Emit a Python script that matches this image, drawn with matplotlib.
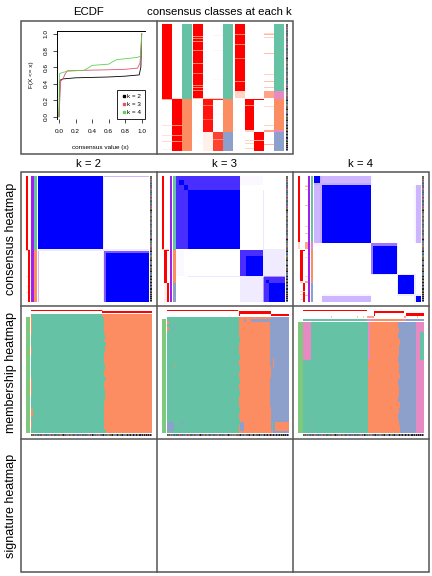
import matplotlib
matplotlib.use('Agg')
import matplotlib.pyplot as plt
import numpy as np
from matplotlib.colors import ListedColormap, LinearSegmentedColormap
from matplotlib.patches import Rectangle

plt.rcParams['font.family'] = ['Liberation Sans', 'DejaVu Sans']

W, H = 432, 576
GRID = '#555555'
CLASS_COLS = ['#66C2A5', '#FC8D62', '#8DA0CB', '#E78AC3']
ECDF_COLS = ['#000000', '#DF536B', '#61D04F']

# ecdf curves
ecdf_x2 = [0.0, 0.01, 0.05, 0.2, 0.4, 0.6, 0.8, 0.97, 0.99, 1.0]
ecdf_y2 = [0.0, 0.44, 0.457, 0.47, 0.475, 0.48, 0.49, 0.505, 0.6, 1.0]
ecdf_x3 = [0.0, 0.02, 0.05, 0.07, 0.1, 0.2, 0.4, 0.6, 0.8, 0.95, 0.98, 1.0]
ecdf_y3 = [0.0, 0.43, 0.46, 0.51, 0.555, 0.558, 0.563, 0.567, 0.573, 0.587, 0.65, 1.0]
ecdf_x4 = [0.0, 0.005, 0.03, 0.1, 0.3, 0.35, 0.4, 0.6, 0.65, 0.7, 0.95, 0.99, 1.0]
ecdf_y4 = [0.0, 0.52, 0.53, 0.55, 0.56, 0.587, 0.62, 0.635, 0.665, 0.69, 0.717, 0.737, 1.0]
ecdf_labels = ['k = 2', 'k = 3', 'k = 4']
ecdf_ticks = [0.0, 0.2, 0.4, 0.6, 0.8, 1.0]

# class segments along the 127 samples: (start, end, class)
class_k2 = [(0, 75, 0), (75, 127, 1)]
class_k3 = [(0, 75, 0), (75, 108, 1), (108, 127, 2)]
class_k4 = [(0, 67, 0), (67, 75, 3), (75, 106, 1), (106, 108, 3), (108, 127, 2)]

# membership probabilities: (column, start, end, value)
probs_k2 = [(0, 0, 75, 1), (0, 75, 76, .5), (1, 75, 127, 1), (1, 74, 75, .25),
            (1, 101, 102, .65), (1, 111, 112, .65), (1, 117, 118, .65),
            (0, 101, 102, .2), (0, 111, 112, .2), (0, 117, 118, .25), (0, 125, 126, .1)]
probs_k3 = [(0, 0, 74, 1), (0, 74, 75, .4), (0, 12, 13, .65), (0, 14, 15, .7), (0, 17, 18, .65),
            (0, 26, 27, .7), (0, 39, 40, .7), (0, 49, 50, .75), (0, 61, 62, .7), (0, 63, 64, .65),
            (0, 66, 67, .7), (1, 75, 108, .95), (1, 108, 127, .1), (1, 81, 82, .75), (1, 95, 96, .8),
            (1, 74, 75, .3), (2, 108, 127, .85), (2, 75, 76, .9), (2, 74, 75, .3), (2, 11, 12, .08),
            (2, 26, 27, .06), (2, 55, 56, .05), (2, 90, 91, .04), (2, 115, 116, .65)]
probs_k4 = [(0, 0, 67, 1), (0, 67, 74, .3), (0, 10, 11, .7), (0, 20, 21, .7), (0, 34, 35, .75),
            (0, 57, 58, .7), (1, 75, 106, 1), (1, 106, 108, .3), (1, 81, 82, .7), (1, 116, 117, .3),
            (1, 119, 120, .3), (1, 124, 125, .3), (2, 75, 76, 1), (2, 108, 127, 1), (2, 116, 117, .5),
            (3, 67, 74, .55), (3, 106, 108, .55), (3, 9, 10, .25), (3, 10, 11, .45), (3, 13, 14, .3),
            (3, 29, 30, .4), (3, 50, 51, .3), (3, 57, 58, .4), (3, 63, 64, .35), (3, 82, 83, .25),
            (3, 101, 102, .3), (3, 120, 121, .45)]

# consensus blocks: group sizes and between group values
cons_sizes_k2 = [1, 73, 2, 2, 49]
cons_vals_k2 = [[1, 1, .1, .35, .35],
                [1, 1, .1, 0, 0],
                [.1, .1, .1, .1, .1],
                [.35, 0, .1, .7, .7],
                [.35, 0, .1, .7, 1]]
cons_sizes_k3 = [4, 5, 5, 60, 1, 6, 20, 1, 3, 3, 19]
cons_vals_k3 = [[.85, .85, .85, .85, 0, .03, .03, 0, 0, 0, 0],
                [.85, 1, .85, .85, 0, .03, .03, 0, 0, 0, 0],
                [.85, .85, 1, .85, 0, 0, 0, 0, 0, 0, 0],
                [.85, .85, .85, 1, 0, 0, 0, .12, 0, 0, 0],
                [0, 0, 0, 0, 0, 0, 0, .12, .1, .1, .1],
                [.03, .03, 0, 0, 0, .85, .85, .12, .1, .1, .1],
                [.03, .03, 0, 0, 0, .85, 1, .12, .1, .1, .1],
                [0, 0, 0, .12, .12, .12, .12, .12, .5, .5, .5],
                [0, 0, 0, 0, .1, .1, .1, .5, .85, .85, .85],
                [0, 0, 0, 0, .1, .1, .1, .5, .85, 1, .85],
                [0, 0, 0, 0, .1, .1, .1, .5, .85, .85, 1]]
cons_sizes_k4 = [7, 2, 58, 3, 28, 1, 19, 2, 6]
cons_vals_k4 = [[1, .4, .35, .03, 0, 0, 0, 0, 0],
                [.4, .4, .4, .03, 0, 0, 0, 0, 0],
                [.35, .4, 1, 0, 0, 0, 0, .05, .35],
                [.03, .03, 0, .6, .6, .1, 0, 0, 0],
                [0, 0, 0, .6, 1, .1, 0, 0, 0],
                [0, 0, 0, .1, .1, .1, .1, .1, 0],
                [0, 0, 0, 0, 0, .1, 1, .1, 0],
                [0, 0, .05, 0, 0, .1, .1, .1, .1],
                [0, 0, .35, 0, 0, 0, 0, .1, 1]]

# colour codes of the sample annotation strip
strip_codes = [6, 1, 5, 4, 1, 7, 2, 6, 3, 6, 1, 5, 7, 4, 1, 2, 6, 3, 1, 7, 7, 5, 2, 4, 6, 6, 1, 3, 5,
               1, 7, 2, 4, 6, 0, 1, 5, 3, 7, 4, 6, 2, 4, 1, 6, 5, 7, 3, 6, 1, 2, 1, 4, 7, 5, 6, 3, 6,
               1, 2, 7, 4, 5, 7, 0, 6, 3, 1, 4, 2, 7, 4, 1, 5, 1, 6, 0, 3, 2, 6, 7, 4, 1, 6, 5, 0, 4,
               3, 7, 2, 0, 1, 4, 6, 6, 5, 0, 3, 1, 7, 1, 0, 2, 6, 0, 4, 1, 0, 5, 3, 0, 1, 7, 0, 0, 2,
               6, 0, 4, 0, 1, 0, 5, 0, 3, 0, 7]
strip_palette = ['#222222', '#6E6E6E', '#7A5FC8', '#4A8FB0', '#9A8A3E', '#A83F68', '#3F6F4F', '#7F7FA0']

# membership: where each class ends, one entry per 6 rows (sample index)
member_edge_k2 = [73, 73, 73, 74, 73, 74, 73, 73, 74, 73, 73, 73, 74, 74, 73, 73, 73, 73, 73, 74, 74]
member_edge_k3a = [71, 71, 71, 72, 71, 71, 72, 71, 72, 71, 72, 71, 72, 71, 71, 72, 71, 72, 71, 71]
member_edge_k3b = [102, 102, 102, 102, 102, 102, 102, 102, 103, 103, 102, 102, 102, 102, 102, 103, 104, 103, 103, 105]
member_edge_k4a = [65, 65, 65, 65, 65, 65, 65, 65, 65, 65, 65, 65, 65, 65, 65, 65, 65, 65, 65, 65]
member_edge_k4b = [95, 96, 95, 97, 96, 96, 95, 96, 96, 97, 95, 96, 96, 95, 97, 96, 95, 96, 97, 97]
member_edge_k4c = [113] * 20
# patches inside the membership maps: (first row, last row, first col, last col, class)
member_patch_k2 = [(0, 18, 0, 1, 1), (32, 38, 0, 1, 1), (62, 78, 0, 1, 1), (92, 100, 0, 2, 1),
                   (104, 110, 0, 1, 1), (26, 30, 73, 75, 0), (60, 64, 73, 75, 0), (113, 116, 73, 75, 0)]
member_patch_k3 = [(0, 3, 76, 78, 2), (0, 3, 83, 102, 2), (2, 5, 0, 2, 1), (8, 12, 0, 2, 1),
                   (6, 11, 7, 8, 2), (47, 49, 8, 9, 1), (92, 94, 7, 8, 2), (105, 114, 0, 7, 2),
                   (105, 108, 14, 16, 2), (105, 114, 72, 76, 2), (105, 114, 107, 121, 1),
                   (105, 114, 104, 105, 0), (40, 50, 105, 106, 1), (90, 105, 103, 105, 2)]
member_patch_k4 = [(0, 40, 0, 8, 3), (0, 40, 65, 67, 3), (40, 116, 113, 121, 3), (0, 40, 113, 117, 3),
                   (0, 40, 117, 121, 0), (0, 10, 113, 121, 3), (88, 90, 9, 10, 2), (98, 100, 9, 10, 2),
                   (108, 110, 9, 10, 2), (48, 52, 65, 66, 3)]


def px_axes(x0, y0, x1, y1):
    ax = fig.add_axes([x0 / W, 1 - y1 / H, (x1 - x0) / W, (y1 - y0) / H])
    ax.set_xticks([])
    ax.set_yticks([])
    for s in ax.spines.values():
        s.set_visible(False)
    return ax


def show(ax, mat, cmap, vmin=0, vmax=1):
    ax.imshow(mat, cmap=cmap, vmin=vmin, vmax=vmax, aspect='auto', interpolation='nearest')


def class_vector(segs):
    v = np.zeros(127, dtype=int)
    for a, b, c in segs:
        v[a:b] = c
    return v


def prob_matrix(items, ncol):
    m = np.zeros((127, ncol))
    for c, a, b, v in items:
        m[a:b, c] = v
    return m


def cons_matrix(sizes, vals):
    m = np.array(vals, dtype=float)
    return np.repeat(np.repeat(m, sizes, axis=0), sizes, axis=1)


def member_matrix(edges, patches):
    m = np.full((116, 121), len(edges))
    for i in range(116):
        j = min(i // 6, len(edges[0]) - 1)
        for c in range(len(edges) - 1, -1, -1):
            m[i, :edges[c][j]] = c
    for r0, r1, c0, c1, v in patches:
        m[r0:r1, c0:c1] = v
    return m


fig = plt.figure(figsize=(W / 100, H / 100), dpi=100)
# the original ramps pass through salmon and violet, not plain pink and pale blue
reds = LinearSegmentedColormap.from_list('reds', [(0, '#FFFFFF'), (.3, '#FFD4C6'), (.5, '#FFAE97'),
                                                  (.7, '#FF8464'), (1, '#FF0000')])
blues = LinearSegmentedColormap.from_list('blues', [(0, '#FFFFFF'), (.1, '#F1EBFF'), (.35, '#CDB5FF'),
                                                    (.5, '#B496FF'), (.7, '#8058FF'), (.85, '#4A30FF'),
                                                    (1, '#0000FF')])
class_cmap = ListedColormap(CLASS_COLS)
strip_cmap = ListedColormap(strip_palette)
strip = np.array(strip_codes)[:, None]

# ECDF
ax = px_axes(56.7, 31, 145, 119)
ax.set_xlim(-0.028, 1.04)
ax.set_ylim(-0.028, 1.036)
for xs, ys, col in zip([ecdf_x2, ecdf_x3, ecdf_x4], [ecdf_y2, ecdf_y3, ecdf_y4], ECDF_COLS):
    ax.plot(xs, ys, color=col, lw=0.6)
for s in ['left', 'top']:
    ax.spines[s].set_visible(True)
    ax.spines[s].set_linewidth(0.7)
ax.set_xticks(ecdf_ticks)
ax.set_xticklabels([f'{t:.1f}' for t in ecdf_ticks], fontsize=4.6)
ax.set_yticks(ecdf_ticks)
ax.set_yticklabels([f'{t:.1f}' for t in ecdf_ticks], fontsize=4.6, rotation=90, va='center')
ax.tick_params(length=3, width=0.5)
ax.tick_params(axis='x', pad=4.3)
ax.tick_params(axis='y', pad=3)
ax.set_xlabel('consensus value (x)', fontsize=4.6, labelpad=7.7)
ax.set_ylabel('F(X <= x)', fontsize=4.6, labelpad=7)
hs = [ax.plot([], [], 's', color=c, ms=2)[0] for c in ECDF_COLS]
leg = ax.legend(hs, ecdf_labels, loc='lower right', fontsize=4.6, frameon=True, fancybox=False,
                edgecolor='black', framealpha=1, borderaxespad=0, handletextpad=0.1,
                labelspacing=0.42, borderpad=0.55, handlelength=1.0)
leg.get_frame().set_linewidth(0.6)

# consensus classes at each k
pos_k2 = [(162, 171.7), (171.7, 182)]
pos_k3 = [(193, 203), (203, 213), (213, 223)]
pos_k4 = [(235, 244.7), (244.7, 254), (254, 264), (264, 274)]
for pos, items, ccol, segs in [(pos_k2, probs_k2, (182, 191.3), class_k2),
                               (pos_k3, probs_k3, (223, 233), class_k3),
                               (pos_k4, probs_k4, (274, 284), class_k4)]:
    m = prob_matrix(items, len(pos))
    for i, (x0, x1) in enumerate(pos):
        show(px_axes(x0, 24.3, x1, 151), m[:, [i]], reds)
    show(px_axes(ccol[0], 24.3, ccol[1], 151), class_vector(segs)[:, None], class_cmap, 0, 3)
show(px_axes(286, 24.3, 288, 151), strip, strip_cmap, 0, 7)

# consensus heatmaps
cons_setup = [
    (38, 149, 150, [(26, 28.3), (28.3, 30.3)], (31, 34), (34, 37), probs_k2, class_k2, cons_sizes_k2, cons_vals_k2),
    (176, 285, 286, [(162, 164.3), (164.3, 166.5), (166.7, 168.7)], (170, 172), (172.7, 175), probs_k3, class_k3,
     cons_sizes_k3, cons_vals_k3),
    (314, 420.7, 422, [(298, 300), (300, 302.7), (303, 305.3), (305.3, 307.5)], (308, 310), (311, 313), probs_k4,
     class_k4, cons_sizes_k4, cons_vals_k4),
]
for x0, x1, sx, cols, sil, ccol, items, segs, sizes, vals in cons_setup:
    show(px_axes(x0, 176, x1, 301.7), cons_matrix(sizes, vals), blues)
    m = prob_matrix(items, len(cols))
    # the narrow annotation columns read as solid red, so stripes are flattened here
    m = np.where(m >= .6, 1, m)
    for i, (a, b) in enumerate(cols):
        show(px_axes(a, 176, b, 301.7), m[:, [i]], reds)
    px_axes(sil[0], 176, sil[1], 301.7).set_facecolor('#A020F0')
    show(px_axes(ccol[0], 176, ccol[1], 301.7), class_vector(segs)[:, None], class_cmap, 0, 3)
    show(px_axes(sx, 176, sx + 2, 301.7), strip, strip_cmap, 0, 7)

# membership heatmaps
member_setup = [
    (31, 152, 314, 317, 317, 26, 30.3, probs_k2, class_k2, 2,
     member_matrix([member_edge_k2], member_patch_k2)),
    (167, 288, 317, 319, 319, 162, 166, probs_k3, class_k3, 3,
     member_matrix([member_edge_k3a, member_edge_k3b], member_patch_k3)),
    (303, 424, 319, 321, 322, 298, 303, probs_k4, class_k4, 4,
     member_matrix([member_edge_k4a, member_edge_k4b, member_edge_k4c], member_patch_k4)),
]
for x0, x1, y0, y1, ly0, lx0, lx1, items, segs, k, mat in member_setup:
    show(px_axes(x0, ly0, x1, 433), mat, class_cmap, 0, 3)
    show(px_axes(x0, y0, x1, y1), class_vector(segs)[None, :], class_cmap, 0, 3)
    band = prob_matrix(items, k)
    band = np.where(band >= .6, 1, band)
    band = np.where(band <= .3, 0, band)
    show(px_axes(x0, 310, x1, y0 - 0.5), band.T, reds)
    px_axes(lx0, ly0, lx1, 433).set_facecolor('#7FC97F')
    show(px_axes(x0, 434, x1, 436), strip.T, strip_cmap, 0, 7)

# frames and titles on top of everything
top = fig.add_axes([0, 0, 1, 1], facecolor='none')
top.set_xlim(0, W)
top.set_ylim(H, 0)
top.axis('off')
top.add_patch(Rectangle((20.7, 20.7), 272.3, 133.3, fill=False, ec=GRID, lw=1.1))
top.plot([157, 157], [20.7, 154], color=GRID, lw=1.1)
top.add_patch(Rectangle((20.7, 172), 408, 400, fill=False, ec=GRID, lw=1.1))
for x in [157, 293]:
    top.plot([x, x], [172, 572], color=GRID, lw=1.1)
for y in [306, 439]:
    top.plot([20.7, 428.7], [y, y], color=GRID, lw=1.1)

top.text(89, 12, 'ECDF', ha='center', va='center', fontsize=8.2)
top.text(219.5, 12, 'consensus classes at each k', ha='center', va='center', fontsize=8.2)
for x, t in zip([89, 225, 361], ['k = 2', 'k = 3', 'k = 4']):
    top.text(x, 164, t, ha='center', va='center', fontsize=8.2)
for y, t in zip([239, 372.5, 505.5], ['consensus heatmap', 'membership heatmap', 'signature heatmap']):
    top.text(11, y, t, ha='center', va='center', rotation=90, fontsize=9)

fig.savefig('out.png', dpi=100)
